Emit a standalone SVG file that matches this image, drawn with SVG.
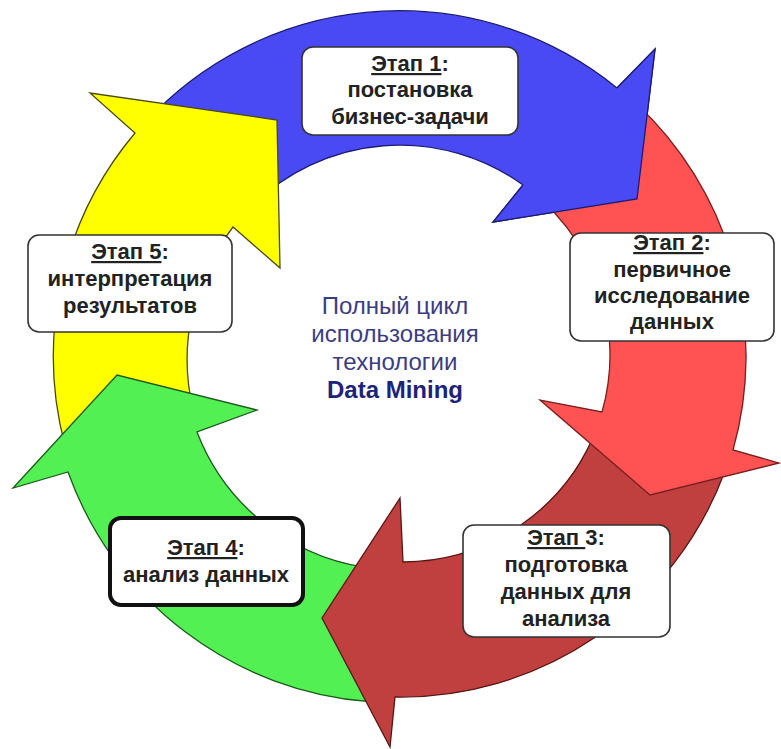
<svg xmlns="http://www.w3.org/2000/svg" width="781" height="749" viewBox="0 0 781 749">
<style>
.box{fill:#fff;stroke:#333;stroke-width:1.6}
.box4{fill:#fff;stroke:#111;stroke-width:4}
.lbl{font-family:"Liberation Sans",Arial,sans-serif;font-weight:bold;font-size:22px;fill:#222;text-anchor:middle}
.ctr{font-family:"Liberation Sans",Arial,sans-serif;font-size:24px;fill:#3c3c82;text-anchor:middle}
.ctrb{font-weight:bold;fill:#1e237a}
.arr{stroke-width:1.3;stroke-linejoin:miter}
</style>
<rect width="781" height="749" fill="#fff"/>
<g id="connectors">
  <path id="arrow-blue" class="arr" fill="#4A4AF4" stroke="#1c1c70" d="M156.1,111.1 A345,345 0 0 1 617,88 L655,49 L637,199 L493,222 L523,185 A210,210 0 0 0 251.5,206.5 Z"/>
  <path id="arrow-yellow" class="arr" fill="#FFFF00" stroke="#4a4a10" d="M64.8,444.8 A347,347 0 0 1 135,133 L90,93 L277,120 L280,268 L233,227 A214,214 0 0 0 193.3,410.4 Z"/>
  <path id="arrow-green" class="arr" fill="#52F052" stroke="#1d5a1d" d="M369.7,701.7 A348,348 0 0 1 68,472 L13,488 L117,375 L257,410 L197,432 A215,215 0 0 0 381.3,569.2 Z"/>
  <path id="arrow-darkred" class="arr" fill="#C0403F" stroke="#5a1515" d="M724.2,473 A345,345 0 0 1 395,697 L390,747 L322,618 L400,498 L403,562 A208,208 0 0 0 597.3,426.8 Z"/>
  <path id="arrow-red" class="arr" fill="#FF5252" stroke="#7a2020" d="M635.3,102.7 A345,345 0 0 1 733,450 L779,463 L650,495 L540,400 L602,412 A210,210 0 0 0 543.2,201.4 Z"/>
  <path id="arrow-blue-head" class="arr" fill="#4A4AF4" stroke="#1c1c70" d="M617,88 L655,49 L637,199 L493,222 L523,185"/>
</g>
<g id="stage1">
  <rect class="box" x="302" y="47" width="216" height="88" rx="11"/>
  <text class="lbl" x="410" y="71"><tspan text-decoration="underline">Этап 1</tspan>:</text>
  <text class="lbl" x="410" y="97">постановка</text>
  <text class="lbl" x="410" y="124">бизнес-задачи</text>
</g>
<g id="stage2">
  <rect class="box" x="570" y="233" width="204" height="108" rx="11"/>
  <text class="lbl" x="672" y="250"><tspan text-decoration="underline">Этап 2</tspan>:</text>
  <text class="lbl" x="672" y="277">первичное</text>
  <text class="lbl" x="672" y="303">исследование</text>
  <text class="lbl" x="672" y="329">данных</text>
</g>
<g id="stage3">
  <rect class="box" x="463" y="525" width="207" height="112" rx="11"/>
  <text class="lbl" x="566" y="545"><tspan text-decoration="underline">Этап </tspan>3:</text>
  <text class="lbl" x="566" y="572">подготовка</text>
  <text class="lbl" x="566" y="599">данных для</text>
  <text class="lbl" x="566" y="626">анализа</text>
</g>
<g id="stage4">
  <rect class="box4" x="110" y="518" width="193" height="87" rx="11"/>
  <text class="lbl" x="206" y="555"><tspan text-decoration="underline">Этап 4</tspan>:</text>
  <text class="lbl" x="206" y="582">анализ данных</text>
</g>
<g id="stage5">
  <rect class="box" x="28" y="235" width="204" height="97" rx="11"/>
  <text class="lbl" x="130" y="259"><tspan text-decoration="underline">Этап 5</tspan>:</text>
  <text class="lbl" x="130" y="286">интерпретация</text>
  <text class="lbl" x="130" y="313">результатов</text>
</g>
<g id="center">
  <text class="ctr" x="395" y="314">Полный цикл</text>
  <text class="ctr" x="395" y="342">использования</text>
  <text class="ctr" x="395" y="370">технологии</text>
  <text class="ctr ctrb" x="395" y="398">Data Mining</text>
</g>
</svg>
